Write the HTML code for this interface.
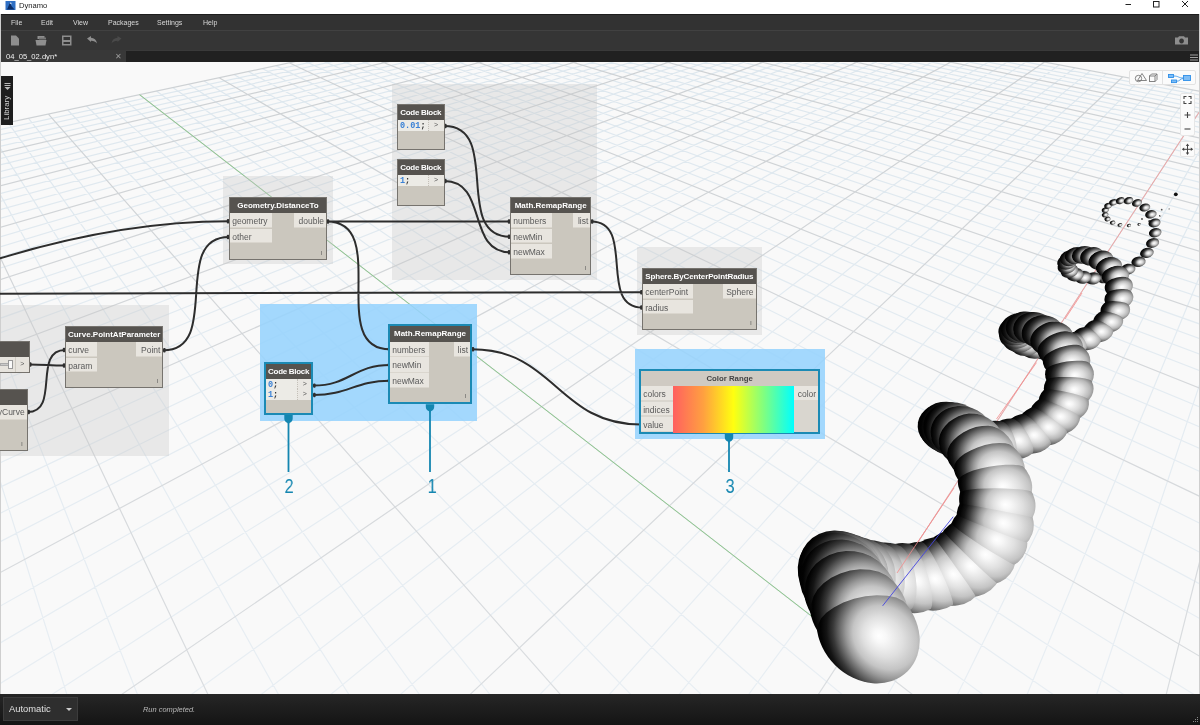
<!DOCTYPE html>
<html lang="en"><head><meta charset="utf-8"><title>Dynamo</title>
<style>
html,body{margin:0;padding:0;}
body{width:1200px;height:725px;overflow:hidden;background:linear-gradient(#fff 0,#fff 14px,#cfcfcf 14px,#cfcfcf 100%);font-family:"Liberation Sans",sans-serif;position:relative;}
#titlebar{position:absolute;left:0;top:0;width:1200px;height:14px;background:#fff;}
#titlebar .ttl{position:absolute;left:19px;top:0;font-size:7.6px;line-height:11px;color:#222;}
#menubar{position:absolute;left:1px;top:14px;width:1198px;height:16px;background:#323232;border-top:1px solid #1d1d1d;box-sizing:border-box;}
#menubar span{position:absolute;top:0px;font-size:7px;line-height:16px;color:#d8d8d8;}
#toolbar{position:absolute;left:1px;top:30px;width:1198px;height:20px;background:#353535;border-top:1px solid #414141;box-sizing:border-box;}
#tabrow{position:absolute;left:1px;top:50px;width:1198px;height:12px;background:#212121;border-top:1px solid #3a3a3a;box-sizing:border-box;}
#tab{position:absolute;left:0;top:-1px;width:125px;height:12px;background:#383838;color:#f0f0f0;font-size:7.6px;line-height:13px;overflow:hidden;}
#tab b{font-weight:normal;position:absolute;left:5px;}
#tab i{font-style:normal;position:absolute;left:114px;color:#9a9a9a;font-size:8px;}
#canvas{position:absolute;left:1px;top:62px;width:1198px;height:632px;background:#f9f9f9;overflow:hidden;}
#bg{position:absolute;left:-1px;top:-62px;}
#statusbar{position:absolute;left:0;top:694px;width:1200px;height:31px;background:linear-gradient(#262626,#141414);}
#runmode{position:absolute;left:3px;top:3px;width:75px;height:24px;box-sizing:border-box;background:#2e2e2e;border:1px solid #3c3c3c;color:#e0e0e0;font-size:9.4px;line-height:22px;padding-left:5px;}
#runmsg{position:absolute;left:143px;top:0;font-size:7.45px;line-height:31px;color:#b8b8b8;font-style:italic;}
#lib{position:absolute;left:1px;top:76px;width:12px;height:49px;background:#1e1e1e;}
#lib span{position:absolute;left:-19px;top:19px;width:50px;height:12px;transform:rotate(-90deg);font-size:7.9px;line-height:12px;color:#d0d0d0;text-align:left;padding-left:6px;box-sizing:border-box;}
.grp{position:absolute;background:rgba(200,200,200,0.34);}
.bgrp{position:absolute;background:rgba(150,211,253,0.88);}
.node{position:absolute;background:#cbc7be;border:1px solid #76736e;box-sizing:border-box;font-size:8.5px;color:#5a5a5a;}
.node.sel{border:2px solid #1b8ab4;}
.hd{background:#56534f;color:#fff;font-weight:bold;font-size:8px;text-align:center;white-space:nowrap;overflow:hidden;}
.hd.light{background:#d3cfc7;color:#444;}
.pi,.po{position:absolute;background:#e8e5df;box-sizing:border-box;white-space:nowrap;box-shadow:inset 0 -1px 0 #dad6ce;}
.pi{left:0;padding-left:2.2px;overflow:hidden;}
.po{right:0;text-align:right;padding-right:2px;overflow:hidden;}
.lace{position:absolute;right:4px;bottom:2px;font-size:6px;line-height:7px;color:#555;}
.code{position:absolute;left:0;background:#ecebe6;font-family:"Liberation Mono",monospace;font-weight:bold;font-size:8.5px;color:#333;box-sizing:border-box;padding-left:2px;padding-top:1px;white-space:nowrap;}
.code em{font-style:normal;color:#3b82d6;}
.cout{position:absolute;right:0;background:#e9e7e2;color:#555;text-align:center;font-size:7px;box-sizing:border-box;border-left:1px dotted #c4c0b8;}
.callnum{position:absolute;color:#1486b0;font-size:21px;line-height:20px;width:30px;text-align:center;transform:scaleX(0.78);}
#viewtog{position:absolute;left:1129px;top:70px;width:67px;height:15px;box-sizing:border-box;background:#fbfbfb;border:1px solid #e2e2e2;border-radius:2px;}
#zoomctl{position:absolute;left:1180px;top:93px;width:15px;height:43px;box-sizing:border-box;background:#fbfbfb;border:1px solid #e6e6e6;border-radius:2px;}
#panctl{position:absolute;left:1180px;top:141px;width:15px;height:16px;box-sizing:border-box;background:#fbfbfb;border:1px solid #e6e6e6;border-radius:2px;}
svg{display:block;}

#titlebar,#menubar,#tabrow,#statusbar,#lib,.node,.callnum{will-change:transform;}
.node.cr{background:#d9d6cf;}
.hd.light{background:#cfcac2;color:#444;font-size:7.8px;}

</style></head>
<body>
<div id="titlebar">
  <svg width="16" height="12" style="position:absolute;left:5px;top:1px" viewBox="0 0 16 12"><rect x="0.5" y="0" width="10" height="9" fill="#2f6fc4"/><path d="M2 8.5L5 1.5L6.5 5L9.5 8.5Z" fill="#0b2d66"/><path d="M4.6 2.2L6 1.2L6.8 3.6Z" fill="#dfeaf8"/></svg>
  <span class="ttl">Dynamo</span>
  <svg width="120" height="14" style="position:absolute;left:1080px;top:-1px" viewBox="0 0 120 14"><path d="M45.5 5.5H51" stroke="#222" stroke-width="1" fill="none"/><rect x="73.5" y="2.5" width="5.5" height="5.5" stroke="#222" stroke-width="1" fill="none"/><path d="M102 2L108 8M108 2L102 8" stroke="#222" stroke-width="1" fill="none"/></svg>
</div>
<div id="menubar"><span style="left:10px">File</span><span style="left:40px">Edit</span><span style="left:72px">View</span><span style="left:107px">Packages</span><span style="left:156px">Settings</span><span style="left:202px">Help</span></div>
<div id="toolbar">
  <svg width="1199" height="19" viewBox="1 31 1199 19" style="position:absolute;left:0;top:0">
    <g fill="#8e8e8e" stroke="none">
      <path d="M11 35.5H16L19 38.5V45.5H11Z"/>
      <path d="M35.5 40H46.5L45.5 45.5H36.5Z"/><rect x="37.5" y="36" width="7" height="3"/><rect x="39" y="37.5" width="7" height="2" fill="#777"/>
      <path d="M62 35.5H71.5V45.5H62Z M63.5 37H70V40H63.5Z M63.5 42H70V44H63.5Z" fill-rule="evenodd"/>
      <path d="M87 38.5L91 36V37.8C94 38 96.5 40 97 43.5C95.5 41.5 93.5 40.6 91 40.7V42Z"/>
      <path d="M121.5 38.5L117.5 36V37.8C114.5 38 112 40 111.5 43.5C113 41.5 115 40.6 117.5 40.7V42Z" fill="#4a4a4a"/>
      <path d="M1175 37.5H1178L1179 36.2H1184L1185 37.5H1188V44.5H1175Z M1181.5 38.6A2.4 2.4 0 1 0 1181.6 38.6Z" fill-rule="evenodd"/>
    </g>
  </svg>
</div>
<div id="tabrow"><div id="tab"><b>04_05_02.dyn*</b><i>&#10005;</i></div>
  <svg width="8" height="8" viewBox="0 0 8 8" style="position:absolute;left:1189px;top:3px"><path d="M0 1H8M0 3.5H8M0 6H8" stroke="#a0a0a0" stroke-width="1" fill="none"/></svg>
</div>
<div id="canvas">
<svg id="bg" width="1200" height="725" viewBox="0 0 1200 725">
<defs><linearGradient id="gmn" gradientUnits="userSpaceOnUse" x1="0" y1="62" x2="0" y2="694"><stop offset="0" stop-color="#dde7ee"/><stop offset="0.45" stop-color="#e3ebf1"/><stop offset="1" stop-color="#e8eef3"/></linearGradient><linearGradient id="gmj" gradientUnits="userSpaceOnUse" x1="0" y1="62" x2="0" y2="694"><stop offset="0" stop-color="#cdd1d4"/><stop offset="0.45" stop-color="#d4d7da"/><stop offset="1" stop-color="#dadde0"/></linearGradient></defs>
<path d="M816.7 6637.3L-154.6 157.4M1371.1 6637.9L-129.1 151.9M1925.6 6638.4L-104.4 146.7M2480.1 6638.9L-80.4 141.6M3589.0 6640.0L-34.8 131.8M4143.5 6640.5L-13.1 127.2M4698.0 6641.0L8.0 122.7M5252.5 6641.5L28.5 118.3M6361.4 6642.6L67.7 110.0M6915.9 6643.1L86.4 106.0M7470.4 6643.6L104.7 102.1M8024.9 6644.1L122.4 98.3M9133.8 6645.2L156.4 91.1M9688.3 6645.7L172.7 87.6M10242.8 6646.2L188.6 84.2M10797.2 6646.8L204.1 80.9M11906.2 6647.8L233.9 74.6M12460.7 6648.3L248.2 71.5M13015.1 6648.9L262.2 68.5M13569.6 6649.4L275.8 65.6M14678.6 6650.4L302.2 60.0M15233.1 6651.0L314.8 57.3M15787.5 6651.5L327.3 54.7M16342.0 6652.0L339.4 52.1M17451.0 6653.0L362.8 47.1M18005.4 6653.6L374.1 44.7M18559.9 6654.1L385.2 42.3M19114.4 6654.6L396.0 40.0M20223.3 6655.7L417.0 35.6M20777.8 6656.2L427.1 33.4M21332.3 6656.7L437.1 31.3M21886.8 6657.2L446.8 29.2M22995.7 6658.3L465.7 25.2M23550.2 6658.8L474.9 23.2M24104.7 6659.3L483.9 21.3M20009.9 5382.4L492.7 19.4M13264.7 3371.4L509.8 15.8M11443.2 2828.4L518.1 14.0M10106.0 2429.8L526.2 12.3M9082.7 2124.7L534.2 10.6M7619.4 1688.4L549.8 7.3M7078.3 1527.1L557.4 5.6M6623.5 1391.5L564.8 4.1M6236.1 1276.0L572.1 2.5M5610.9 1089.6L586.3 -0.5M5355.1 1013.4L593.2 -2.0M5128.5 945.8L600.1 -3.5M4926.3 885.6L606.7 -4.9M4581.1 782.6L619.8 -7.7M4432.6 738.4L626.1 -9.0M4297.2 698.0L632.4 -10.3M4173.4 661.1L638.5 -11.7M764.4 6637.3L1357.5 120.7M217.2 6636.8L1334.8 116.4M-877.2 6635.7L1291.4 108.3M-1424.4 6635.2L1270.6 104.4M-1971.6 6634.7L1250.3 100.6M-2518.8 6634.2L1230.6 96.9M-3613.2 6633.1L1192.8 89.8M-4160.4 6632.6L1174.6 86.4M-4707.6 6632.1L1156.9 83.1M-5254.8 6631.6L1139.7 79.9M-6349.2 6630.6L1106.4 73.6M-6896.4 6630.0L1090.4 70.6M-7443.6 6629.5L1074.8 67.7M-7990.8 6629.0L1059.5 64.8M-9085.2 6628.0L1030.1 59.3M-9632.4 6627.5L1015.9 56.7M-10179.6 6626.9L1002.0 54.1M-10726.8 6626.4L988.4 51.5M-11821.2 6625.4L962.2 46.6M-12368.4 6624.9L949.5 44.2M-12915.6 6624.4L937.1 41.9M-13462.8 6623.8L924.9 39.6M-14557.2 6622.8L901.3 35.2M-15104.4 6622.3L889.9 33.0M-15651.6 6621.8L878.7 30.9M-16198.8 6621.3L867.8 28.9M-17293.2 6620.2L846.5 24.9M-17840.4 6619.7L836.2 23.0M-18387.6 6619.2L826.1 21.1M-18934.8 6618.7L816.2 19.2M-12368.1 4189.0L796.9 15.6M-10163.9 3398.8L787.5 13.9M-8636.1 2851.0L778.4 12.1M-7514.6 2449.0L769.3 10.4M-5978.5 1898.3L751.8 7.1M-5429.6 1701.5L743.2 5.5M-4975.9 1538.8L734.8 4.0M-4594.7 1402.1L726.6 2.4M-3989.9 1185.3L710.5 -0.6M-3745.9 1097.8L702.7 -2.1M-3531.5 1021.0L695.0 -3.5M-3341.6 952.9L687.4 -4.9M-3020.1 837.6L672.7 -7.7M-2882.8 788.4L665.5 -9.0M-2758.3 743.8L658.4 -10.4M-2644.9 703.1L651.4 -11.7" stroke="url(#gmn)" stroke-width="1.2" fill="none"/>
<path d="M262.2 6636.8L-181.1 163.0M3034.6 6639.4L-57.3 136.6M5807.0 6642.0L48.4 114.1M8579.3 6644.7L139.6 94.7M11351.7 6647.3L219.2 77.7M14124.1 6649.9L289.2 62.8M16896.5 6652.5L351.2 49.6M19668.9 6655.1L406.6 37.8M22441.2 6657.8L456.4 27.2M15891.6 4154.6L501.3 17.6M8274.2 1883.6L542.1 8.9M5902.0 1176.4L579.3 1.0M4744.9 831.5L613.3 -6.3M4059.6 627.2L644.6 -12.9M-330.0 6636.3L1312.8 112.3M-3066.0 6633.7L1211.5 93.3M-5802.0 6631.1L1122.8 76.7M-8538.0 6628.5L1044.6 62.0M-11274.0 6625.9L975.2 49.0M-14010.0 6623.3L913.0 37.4M-16746.0 6620.7L857.1 26.9M-15825.0 5428.4L806.5 17.4M-6656.4 2141.3L760.5 8.8M-4269.9 1285.7L718.5 0.9M-3172.1 892.1L680.0 -6.3M-2541.1 665.9L644.6 -12.9M4059.6 627.2L644.6 -12.9" stroke="url(#gmj)" stroke-width="1.2" fill="none"/>
<path d="M850.0 646.0L1211.5 93.3" stroke="#f4a0a0" stroke-width="0.9" fill="none"/>
<path d="M850.0 646.0L139.6 94.7" stroke="#8fc98f" stroke-width="1" fill="none"/>
<defs><radialGradient id="s2_75" gradientUnits="userSpaceOnUse" cx="0.452" cy="0.245" r="1.55" fx="0.178" fy="0.110"><stop offset="0" stop-color="#fff"/><stop offset="0.1" stop-color="#f0f0f0"/><stop offset="0.24" stop-color="#d0d0d0"/><stop offset="0.36" stop-color="#9a9a9a"/><stop offset="0.48" stop-color="#5a5a5a"/><stop offset="0.62" stop-color="#2a2a2a"/><stop offset="0.8" stop-color="#0c0c0c"/><stop offset="1" stop-color="#000"/></radialGradient><radialGradient id="s2_70" gradientUnits="userSpaceOnUse" cx="0.429" cy="0.284" r="1.55" fx="0.167" fy="0.125"><stop offset="0" stop-color="#fff"/><stop offset="0.1" stop-color="#f0f0f0"/><stop offset="0.24" stop-color="#d0d0d0"/><stop offset="0.36" stop-color="#9a9a9a"/><stop offset="0.48" stop-color="#5a5a5a"/><stop offset="0.62" stop-color="#2a2a2a"/><stop offset="0.8" stop-color="#0c0c0c"/><stop offset="1" stop-color="#000"/></radialGradient><radialGradient id="s2_80" gradientUnits="userSpaceOnUse" cx="0.472" cy="0.205" r="1.55" fx="0.187" fy="0.094"><stop offset="0" stop-color="#fff"/><stop offset="0.1" stop-color="#f0f0f0"/><stop offset="0.24" stop-color="#d0d0d0"/><stop offset="0.36" stop-color="#9a9a9a"/><stop offset="0.48" stop-color="#5a5a5a"/><stop offset="0.62" stop-color="#2a2a2a"/><stop offset="0.8" stop-color="#0c0c0c"/><stop offset="1" stop-color="#000"/></radialGradient><radialGradient id="s1_75" gradientUnits="userSpaceOnUse" cx="0.452" cy="0.245" r="1.55" fx="0.178" fy="0.110"><stop offset="0" stop-color="#fff"/><stop offset="0.08" stop-color="#f6f6f6"/><stop offset="0.22" stop-color="#dcdcdc"/><stop offset="0.36" stop-color="#b8b8b8"/><stop offset="0.46" stop-color="#888"/><stop offset="0.56" stop-color="#585858"/><stop offset="0.66" stop-color="#303030"/><stop offset="0.78" stop-color="#111"/><stop offset="0.9" stop-color="#030303"/><stop offset="1" stop-color="#000"/></radialGradient><clipPath id="c63"><path d="M1100.7 242.0L1094.5 252.9L1093.9 253.3L1093.2 253.7L1092.6 254.2L1092.0 254.7L1091.5 255.2L1091.0 255.8L1090.5 256.4L1090.1 257.0L1089.7 257.6L1089.4 258.2L1089.1 258.8L1088.9 259.4L1079.2 267.2L1103.9 288.3L1125.4 263.2 Z"/></clipPath><radialGradient id="s1_80" gradientUnits="userSpaceOnUse" cx="0.472" cy="0.205" r="1.55" fx="0.187" fy="0.094"><stop offset="0" stop-color="#fff"/><stop offset="0.08" stop-color="#f6f6f6"/><stop offset="0.22" stop-color="#dcdcdc"/><stop offset="0.36" stop-color="#b8b8b8"/><stop offset="0.46" stop-color="#888"/><stop offset="0.56" stop-color="#585858"/><stop offset="0.66" stop-color="#303030"/><stop offset="0.78" stop-color="#111"/><stop offset="0.9" stop-color="#030303"/><stop offset="1" stop-color="#000"/></radialGradient><clipPath id="c62"><path d="M1117.2 247.6L1108.4 257.1L1107.2 257.4L1105.9 257.8L1104.7 258.2L1103.4 258.9L1102.2 259.6L1101.0 260.4L1099.9 261.2L1099.0 262.1L1098.1 263.1L1097.4 264.0L1096.9 264.9L1096.6 265.8L1084.9 271.4L1104.8 298.6L1137.2 274.9 Z"/></clipPath><clipPath id="c61"><path d="M1130.3 257.9L1119.4 265.7L1118.1 265.6L1116.6 265.7L1115.0 266.0L1113.2 266.5L1111.5 267.1L1109.7 267.8L1108.1 268.7L1106.6 269.6L1105.2 270.6L1104.1 271.6L1103.3 272.6L1102.7 273.5L1089.7 276.8L1104.5 308.5L1145.1 289.5 Z"/></clipPath><clipPath id="c60"><path d="M1139.4 271.3L1126.9 277.2L1125.7 276.9L1124.2 276.7L1122.4 276.7L1120.3 276.9L1118.2 277.2L1116.0 277.7L1113.8 278.4L1111.8 279.1L1110.0 279.9L1108.5 280.8L1107.4 281.7L1106.6 282.5L1092.8 283.4L1101.9 318.3L1148.4 306.1 Z"/></clipPath><clipPath id="c59"><path d="M1143.8 286.8L1130.1 290.6L1129.2 290.0L1127.8 289.6L1125.9 289.3L1123.7 289.1L1121.3 289.1L1118.8 289.2L1116.3 289.5L1114.0 289.9L1111.8 290.4L1110.0 291.0L1108.7 291.6L1107.8 292.3L1093.6 290.7L1096.5 327.6L1146.7 323.8 Z"/></clipPath><radialGradient id="s1_85" gradientUnits="userSpaceOnUse" cx="0.488" cy="0.163" r="1.55" fx="0.194" fy="0.077"><stop offset="0" stop-color="#fff"/><stop offset="0.08" stop-color="#f6f6f6"/><stop offset="0.22" stop-color="#dcdcdc"/><stop offset="0.36" stop-color="#b8b8b8"/><stop offset="0.46" stop-color="#888"/><stop offset="0.56" stop-color="#585858"/><stop offset="0.66" stop-color="#303030"/><stop offset="0.78" stop-color="#111"/><stop offset="0.9" stop-color="#030303"/><stop offset="1" stop-color="#000"/></radialGradient><clipPath id="c58"><path d="M1143.3 303.5L1128.8 304.7L1128.2 304.0L1126.9 303.4L1125.2 302.8L1123.0 302.2L1120.5 301.8L1117.9 301.4L1115.3 301.2L1112.7 301.1L1110.4 301.2L1108.5 301.4L1107.0 301.8L1106.0 302.2L1092.1 298.0L1088.0 335.7L1139.3 341.2 Z"/></clipPath><clipPath id="c57"><path d="M1137.9 320.2L1123.1 318.5L1122.7 317.8L1121.7 316.9L1120.1 316.0L1118.2 315.0L1115.8 314.1L1113.3 313.2L1110.7 312.5L1108.2 311.9L1105.9 311.6L1103.9 311.4L1102.4 311.5L1101.3 311.7L1088.3 304.7L1076.7 341.6L1126.3 357.1 Z"/></clipPath><clipPath id="c56"><path d="M1127.8 335.9L1113.5 331.1L1113.3 330.2L1112.6 329.2L1111.4 327.9L1109.8 326.6L1107.8 325.2L1105.6 323.8L1103.3 322.6L1101.0 321.6L1098.8 320.8L1096.9 320.3L1095.4 320.1L1094.3 320.2L1082.8 310.3L1063.3 344.6L1108.4 370.2 Z"/></clipPath><clipPath id="c55"><path d="M1113.9 349.7L1100.9 341.6L1101.0 340.6L1100.7 339.3L1099.9 337.8L1098.8 336.2L1097.3 334.4L1095.6 332.7L1093.7 331.1L1091.8 329.6L1089.9 328.5L1088.1 327.6L1086.6 327.2L1085.3 327.1L1076.3 314.6L1048.9 344.0L1086.5 379.1 Z"/></clipPath><clipPath id="c54"><path d="M1097.1 360.8L1086.3 349.4L1086.8 348.4L1086.9 347.0L1086.7 345.3L1086.2 343.4L1085.3 341.4L1084.2 339.4L1082.8 337.5L1081.3 335.8L1079.7 334.4L1078.2 333.2L1076.7 332.5L1075.4 332.2L1069.6 317.6L1035.2 339.6L1062.6 382.7 Z"/></clipPath><clipPath id="c53"><path d="M1078.6 368.5L1071.1 354.5L1072.0 353.4L1072.6 352.0L1073.0 350.2L1073.0 348.3L1072.8 346.2L1072.3 344.1L1071.5 342.0L1070.5 340.1L1069.3 338.5L1068.0 337.1L1066.6 336.1L1065.2 335.5L1063.4 319.7L1023.7 332.0L1038.9 380.9 Z"/></clipPath><clipPath id="c52"><path d="M1060.0 372.7L1056.4 356.8L1057.6 355.8L1058.7 354.4L1059.6 352.8L1060.2 350.9L1060.6 348.9L1060.7 346.8L1060.5 344.8L1060.0 342.8L1059.2 341.0L1058.2 339.4L1057.1 338.2L1055.8 337.3L1058.3 321.2L1015.9 322.6L1017.5 374.1 Z"/></clipPath><clipPath id="c51"><path d="M1042.6 373.4L1043.3 356.7L1044.8 355.8L1046.2 354.6L1047.5 353.2L1048.6 351.6L1049.4 349.8L1050.0 347.9L1050.3 346.0L1050.3 344.2L1050.1 342.4L1049.6 340.7L1048.8 339.2L1047.7 338.0L1054.6 322.8L1012.3 312.7L1000.3 363.3 Z"/></clipPath><clipPath id="c50"><path d="M1027.7 371.1L1032.9 354.7L1034.4 354.0L1035.9 353.1L1037.3 352.0L1038.6 350.7L1039.7 349.4L1040.6 347.9L1041.3 346.4L1041.8 344.8L1042.1 343.2L1042.1 341.6L1041.9 340.2L1041.5 338.8L1052.4 325.5L1013.1 304.2L988.4 349.7 Z"/></clipPath><clipPath id="c49"><path d="M1017.0 365.8L1026.7 351.1L1027.8 350.6L1028.9 350.1L1029.9 349.5L1030.8 348.8L1031.7 348.0L1032.6 347.2L1033.3 346.4L1034.0 345.5L1034.6 344.6L1035.1 343.7L1035.5 342.7L1035.9 341.8L1050.4 331.7L1017.5 299.5L984.1 333.7 Z"/></clipPath><clipPath id="c44"><path d="M1019.2 297.5L1017.5 318.8L1016.6 319.7L1015.8 320.8L1015.1 321.9L1014.5 323.0L1014.0 324.1L1013.7 325.3L1013.4 326.5L1013.2 327.7L1013.2 328.9L1013.2 330.1L1013.4 331.3L1013.6 332.4L1004.1 351.4L1057.6 366.4L1072.7 312.5 Z"/></clipPath><clipPath id="c43"><path d="M1046.1 295.8L1037.1 316.0L1034.7 316.8L1032.3 317.8L1030.1 319.2L1028.0 320.8L1026.2 322.6L1024.6 324.6L1023.4 326.7L1022.4 328.9L1021.8 331.1L1021.6 333.2L1021.8 335.3L1022.3 337.2L1006.4 352.7L1053.8 385.7L1093.4 328.8 Z"/></clipPath><clipPath id="c42"><path d="M1069.2 303.4L1055.0 321.5L1052.1 321.5L1049.1 322.0L1045.9 323.0L1042.8 324.4L1039.8 326.2L1037.1 328.3L1034.7 330.6L1032.8 333.1L1031.4 335.7L1030.5 338.2L1030.2 340.6L1030.5 342.8L1010.6 354.3L1049.8 399.5L1108.4 348.6 Z"/></clipPath><clipPath id="c41"><path d="M1088.6 316.7L1070.4 332.0L1067.7 331.3L1064.5 331.3L1060.8 331.8L1057.0 332.8L1053.1 334.2L1049.4 336.1L1045.9 338.3L1043.0 340.7L1040.6 343.2L1038.9 345.7L1037.9 348.0L1037.7 350.2L1015.2 357.6L1045.3 411.6L1118.7 370.7 Z"/></clipPath><radialGradient id="s1_90" gradientUnits="userSpaceOnUse" cx="0.500" cy="0.120" r="1.55" fx="0.200" fy="0.060"><stop offset="0" stop-color="#fff"/><stop offset="0.08" stop-color="#f6f6f6"/><stop offset="0.22" stop-color="#dcdcdc"/><stop offset="0.36" stop-color="#b8b8b8"/><stop offset="0.46" stop-color="#888"/><stop offset="0.56" stop-color="#585858"/><stop offset="0.66" stop-color="#303030"/><stop offset="0.78" stop-color="#111"/><stop offset="0.9" stop-color="#030303"/><stop offset="1" stop-color="#000"/></radialGradient><clipPath id="c40"><path d="M1103.6 334.2L1082.3 346.2L1080.1 345.2L1077.1 344.7L1073.3 344.7L1069.0 345.2L1064.4 346.2L1059.7 347.5L1055.3 349.2L1051.4 351.2L1048.0 353.2L1045.5 355.3L1043.9 357.3L1043.3 359.2L1019.1 362.4L1039.2 422.8L1123.7 394.6 Z"/></clipPath><clipPath id="c39"><path d="M1113.5 354.9L1089.8 363.0L1088.2 362.0L1085.5 361.2L1081.7 360.8L1077.1 360.7L1072.0 361.0L1066.7 361.6L1061.6 362.5L1056.8 363.7L1052.7 365.0L1049.6 366.4L1047.4 367.9L1046.5 369.3L1021.5 368.1L1030.8 432.6L1122.7 419.4 Z"/></clipPath><clipPath id="c38"><path d="M1117.5 377.6L1092.3 381.5L1091.2 380.5L1088.7 379.5L1085.0 378.6L1080.4 377.8L1075.0 377.3L1069.4 377.0L1063.8 376.9L1058.5 377.1L1054.0 377.5L1050.5 378.1L1048.1 378.9L1046.9 379.8L1022.1 374.0L1019.6 440.5L1115.0 444.0 Z"/></clipPath><radialGradient id="s1_95" gradientUnits="userSpaceOnUse" cx="0.509" cy="0.076" r="1.55" fx="0.204" fy="0.042"><stop offset="0" stop-color="#fff"/><stop offset="0.08" stop-color="#f6f6f6"/><stop offset="0.22" stop-color="#dcdcdc"/><stop offset="0.36" stop-color="#b8b8b8"/><stop offset="0.46" stop-color="#888"/><stop offset="0.56" stop-color="#585858"/><stop offset="0.66" stop-color="#303030"/><stop offset="0.78" stop-color="#111"/><stop offset="0.9" stop-color="#030303"/><stop offset="1" stop-color="#000"/></radialGradient><clipPath id="c37"><path d="M1115.1 401.0L1089.2 400.1L1088.4 399.2L1086.3 398.0L1082.8 396.6L1078.3 395.1L1073.1 393.6L1067.4 392.3L1061.7 391.1L1056.4 390.2L1051.8 389.6L1048.2 389.4L1045.7 389.5L1044.5 390.0L1020.8 379.6L1005.9 445.5L1100.2 466.8 Z"/></clipPath><clipPath id="c36"><path d="M1106.3 423.6L1080.7 417.7L1080.2 416.7L1078.4 415.2L1075.4 413.3L1071.3 411.1L1066.4 408.7L1061.2 406.2L1055.9 404.0L1050.9 402.1L1046.5 400.6L1043.0 399.6L1040.6 399.2L1039.4 399.4L1017.9 384.5L990.3 447.0L1078.7 486.0 Z"/></clipPath><clipPath id="c35"><path d="M1091.6 444.0L1067.6 433.0L1067.4 431.9L1066.1 430.1L1063.6 427.6L1060.3 424.6L1056.2 421.4L1051.7 418.1L1047.1 414.9L1042.7 412.1L1038.8 409.9L1035.5 408.3L1033.2 407.5L1031.9 407.5L1013.7 388.4L973.6 444.5L1051.5 500.1 Z"/></clipPath><clipPath id="c34"><path d="M1072.3 461.1L1050.9 445.1L1051.2 443.9L1050.6 441.7L1049.0 438.8L1046.6 435.2L1043.6 431.3L1040.2 427.3L1036.5 423.5L1032.8 420.1L1029.4 417.3L1026.4 415.3L1024.1 414.1L1022.6 414.0L1008.7 391.2L957.2 438.0L1020.8 507.9 Z"/></clipPath><radialGradient id="s1_100" gradientUnits="userSpaceOnUse" cx="0.513" cy="0.031" r="1.55" fx="0.207" fy="0.024"><stop offset="0" stop-color="#fff"/><stop offset="0.08" stop-color="#f6f6f6"/><stop offset="0.22" stop-color="#dcdcdc"/><stop offset="0.36" stop-color="#b8b8b8"/><stop offset="0.46" stop-color="#888"/><stop offset="0.56" stop-color="#585858"/><stop offset="0.66" stop-color="#303030"/><stop offset="0.78" stop-color="#111"/><stop offset="0.9" stop-color="#030303"/><stop offset="1" stop-color="#000"/></radialGradient><clipPath id="c33"><path d="M1049.8 474.1L1032.3 453.7L1033.2 452.3L1033.4 449.9L1032.9 446.7L1031.7 442.8L1029.9 438.5L1027.6 434.1L1024.9 429.8L1022.0 426.0L1019.2 422.8L1016.4 420.4L1014.1 419.0L1012.1 418.6L1003.4 393.1L942.5 428.0L988.9 509.0 Z"/></clipPath><clipPath id="c32"><path d="M1026.1 482.8L1013.2 458.8L1014.8 457.3L1016.0 454.9L1016.7 451.6L1016.7 447.6L1016.1 443.2L1014.9 438.7L1013.2 434.2L1011.2 430.1L1008.8 426.6L1006.3 423.9L1003.8 422.1L1001.5 421.3L998.4 394.2L930.6 415.4L958.3 503.9 Z"/></clipPath><clipPath id="c31"><path d="M1002.7 487.3L995.0 460.8L997.5 459.4L999.6 457.1L1001.3 453.9L1002.4 450.2L1003.0 445.9L1002.9 441.4L1002.1 437.0L1000.8 432.8L999.0 429.1L996.8 426.0L994.2 423.8L991.6 422.4L994.3 395.0L922.6 401.4L931.0 493.8 Z"/></clipPath><clipPath id="c30"><path d="M981.1 488.4L979.0 460.3L982.1 459.1L985.0 457.1L987.6 454.3L989.6 450.9L991.1 447.0L991.9 442.9L992.1 438.7L991.5 434.5L990.3 430.7L988.5 427.4L986.2 424.6L983.4 422.7L991.9 395.9L919.2 387.3L908.3 479.9 Z"/></clipPath><clipPath id="c29"><path d="M962.6 486.7L966.4 458.2L969.8 457.2L973.1 455.6L976.2 453.3L978.8 450.5L980.9 447.2L982.5 443.6L983.4 439.8L983.6 436.0L983.2 432.3L982.0 428.8L980.3 425.7L978.0 423.1L992.1 398.1L921.1 374.4L891.5 463.0 Z"/></clipPath><clipPath id="c28"><path d="M948.5 482.8L958.7 455.1L961.8 454.3L964.9 453.0L967.8 451.3L970.3 449.3L972.6 446.9L974.5 444.3L975.9 441.4L976.9 438.4L977.4 435.4L977.3 432.3L976.8 429.3L975.8 426.5L995.5 404.5L929.6 365.0L882.6 443.3 Z"/></clipPath><radialGradient id="s0_100" gradientUnits="userSpaceOnUse" cx="0.513" cy="0.031" r="1.55" fx="0.207" fy="0.024"><stop offset="0" stop-color="#fff"/><stop offset="0.08" stop-color="#f8f8f8"/><stop offset="0.25" stop-color="#e0e0e0"/><stop offset="0.4" stop-color="#c4c4c4"/><stop offset="0.51" stop-color="#989898"/><stop offset="0.61" stop-color="#686868"/><stop offset="0.71" stop-color="#383838"/><stop offset="0.81" stop-color="#141414"/><stop offset="0.9" stop-color="#030303"/><stop offset="1" stop-color="#000"/></radialGradient><clipPath id="c23"><path d="M972.8 374.7L956.7 406.3L952.6 406.9L948.7 408.1L944.9 409.8L941.4 412.0L938.3 414.7L935.7 417.6L933.5 420.9L931.9 424.4L930.9 428.0L930.5 431.6L930.8 435.2L931.6 438.7L905.0 462.1L977.9 518.6L1045.7 431.3 Z"/></clipPath><clipPath id="c22"><path d="M1002.4 385.7L979.2 414.3L974.3 413.4L969.0 413.5L963.6 414.5L958.4 416.3L953.4 418.9L948.9 422.1L945.1 425.9L942.1 430.1L940.0 434.5L938.9 439.0L938.9 443.3L939.8 447.3L907.7 465.3L969.4 538.7L1064.1 459.2 Z"/></clipPath><clipPath id="c21"><path d="M1026.9 403.4L997.9 428.2L993.5 426.4L988.1 425.7L982.1 425.9L975.8 427.1L969.5 429.3L963.5 432.2L958.1 435.9L953.6 440.0L950.2 444.3L948.0 448.7L947.1 453.0L947.6 456.8L911.4 469.1L960.6 555.6L1076.2 489.8 Z"/></clipPath><radialGradient id="s0_105" gradientUnits="userSpaceOnUse" cx="0.514" cy="-0.013" r="1.55" fx="0.209" fy="0.006"><stop offset="0" stop-color="#fff"/><stop offset="0.08" stop-color="#f8f8f8"/><stop offset="0.25" stop-color="#e0e0e0"/><stop offset="0.4" stop-color="#c4c4c4"/><stop offset="0.51" stop-color="#989898"/><stop offset="0.61" stop-color="#686868"/><stop offset="0.71" stop-color="#383838"/><stop offset="0.81" stop-color="#141414"/><stop offset="0.9" stop-color="#030303"/><stop offset="1" stop-color="#000"/></radialGradient><clipPath id="c20"><path d="M1047.6 426.4L1013.7 446.5L1010.3 444.5L1005.4 443.3L999.2 443.0L992.3 443.6L984.9 445.1L977.5 447.4L970.6 450.4L964.5 453.8L959.7 457.5L956.3 461.2L954.4 464.7L954.2 467.9L915.3 474.0L950.0 570.7L1082.4 523.1 Z"/></clipPath><clipPath id="c19"><path d="M1063.6 453.9L1025.8 468.3L1023.5 466.6L1019.1 465.3L1013.1 464.7L1005.6 464.8L997.4 465.4L988.8 466.7L980.6 468.5L973.1 470.6L967.0 473.0L962.4 475.4L959.7 477.8L959.0 480.0L918.5 479.3L936.7 583.3L1081.8 557.9 Z"/></clipPath><clipPath id="c18"><path d="M1073.6 484.9L1032.9 492.6L1031.5 491.5L1027.7 490.4L1021.7 489.5L1013.9 488.9L1005.0 488.4L995.5 488.3L986.3 488.4L977.8 488.8L970.8 489.5L965.5 490.3L962.3 491.3L961.3 492.3L920.7 484.3L920.3 592.2L1073.2 592.8 Z"/></clipPath><radialGradient id="s0_110" gradientUnits="userSpaceOnUse" cx="0.511" cy="-0.058" r="1.55" fx="0.208" fy="-0.012"><stop offset="0" stop-color="#fff"/><stop offset="0.08" stop-color="#f8f8f8"/><stop offset="0.25" stop-color="#e0e0e0"/><stop offset="0.4" stop-color="#c4c4c4"/><stop offset="0.51" stop-color="#989898"/><stop offset="0.61" stop-color="#686868"/><stop offset="0.71" stop-color="#383838"/><stop offset="0.81" stop-color="#141414"/><stop offset="0.9" stop-color="#030303"/><stop offset="1" stop-color="#000"/></radialGradient><clipPath id="c17"><path d="M1076.1 517.8L1034.0 517.9L1033.1 517.5L1029.5 516.7L1023.5 515.3L1015.6 513.7L1006.3 511.9L996.5 510.0L986.7 508.2L977.9 506.6L970.5 505.3L965.1 504.5L961.8 504.1L960.9 504.1L921.8 488.6L901.5 596.3L1055.7 625.5 Z"/></clipPath><clipPath id="c16"><path d="M1070.2 550.6L1028.5 542.7L1027.6 542.8L1024.1 541.8L1018.2 539.8L1010.4 536.9L1001.3 533.5L991.6 529.7L982.1 525.8L973.5 522.3L966.4 519.2L961.3 516.9L958.5 515.4L957.9 514.8L922.1 492.0L881.3 595.0L1029.5 653.6 Z"/></clipPath><radialGradient id="s0_115" gradientUnits="userSpaceOnUse" cx="0.504" cy="-0.103" r="1.55" fx="0.207" fy="-0.030"><stop offset="0" stop-color="#fff"/><stop offset="0.08" stop-color="#f8f8f8"/><stop offset="0.25" stop-color="#e0e0e0"/><stop offset="0.4" stop-color="#c4c4c4"/><stop offset="0.51" stop-color="#989898"/><stop offset="0.61" stop-color="#686868"/><stop offset="0.71" stop-color="#383838"/><stop offset="0.81" stop-color="#141414"/><stop offset="0.9" stop-color="#030303"/><stop offset="1" stop-color="#000"/></radialGradient><clipPath id="c15"><path d="M1056.0 581.1L1016.3 565.2L1015.3 565.3L1011.9 563.8L1006.4 560.8L999.2 556.6L990.8 551.5L981.9 545.9L973.3 540.2L965.6 535.0L959.4 530.5L955.0 527.1L952.6 525.0L952.4 524.2L921.4 494.7L861.2 588.4L995.7 674.9 Z"/></clipPath><clipPath id="c14"><path d="M1034.3 607.2L998.3 583.8L997.4 583.5L994.6 581.3L989.9 577.2L983.9 571.7L976.8 565.1L969.4 558.1L962.2 551.0L955.7 544.6L950.4 539.2L946.6 535.1L944.6 532.7L944.4 532.0L919.6 497.0L842.1 577.6L956.8 687.8 Z"/></clipPath><radialGradient id="s0_120" gradientUnits="userSpaceOnUse" cx="0.493" cy="-0.146" r="1.55" fx="0.203" fy="-0.048"><stop offset="0" stop-color="#fff"/><stop offset="0.08" stop-color="#f8f8f8"/><stop offset="0.25" stop-color="#e0e0e0"/><stop offset="0.4" stop-color="#c4c4c4"/><stop offset="0.51" stop-color="#989898"/><stop offset="0.61" stop-color="#686868"/><stop offset="0.71" stop-color="#383838"/><stop offset="0.81" stop-color="#141414"/><stop offset="0.9" stop-color="#030303"/><stop offset="1" stop-color="#000"/></radialGradient><clipPath id="c13"><path d="M1007.5 627.3L976.4 597.5L976.0 596.7L974.2 593.7L970.9 588.8L966.5 582.3L961.2 574.7L955.5 566.7L949.9 558.7L944.6 551.5L940.2 545.6L936.9 541.2L934.9 538.7L934.2 538.1L916.4 498.9L824.8 563.8L915.9 692.2 Z"/></clipPath><clipPath id="c12"><path d="M978.0 641.3L952.6 606.4L953.2 605.0L952.8 601.5L951.2 596.1L948.7 589.1L945.4 581.0L941.5 572.4L937.4 564.0L933.3 556.4L929.5 550.2L926.3 545.6L923.9 542.9L922.4 542.2L911.7 500.3L809.7 548.3L876.1 689.3 Z"/></clipPath><radialGradient id="s0_125" gradientUnits="userSpaceOnUse" cx="0.478" cy="-0.188" r="1.55" fx="0.198" fy="-0.066"><stop offset="0" stop-color="#fff"/><stop offset="0.08" stop-color="#f8f8f8"/><stop offset="0.25" stop-color="#e0e0e0"/><stop offset="0.4" stop-color="#c4c4c4"/><stop offset="0.51" stop-color="#989898"/><stop offset="0.61" stop-color="#686868"/><stop offset="0.71" stop-color="#383838"/><stop offset="0.81" stop-color="#141414"/><stop offset="0.9" stop-color="#030303"/><stop offset="1" stop-color="#000"/></radialGradient><clipPath id="c11"><path d="M948.6 649.7L928.9 610.9L930.8 609.3L932.0 605.6L932.3 600.0L931.8 592.9L930.3 584.7L928.1 576.0L925.3 567.6L922.1 559.8L918.7 553.3L915.4 548.4L912.4 545.4L909.8 544.4L905.9 501.0L796.9 532.3L839.5 681.0 Z"/></clipPath><clipPath id="c10"><path d="M921.2 653.9L907.0 612.2L910.3 610.6L913.1 607.0L915.2 601.5L916.4 594.6L916.6 586.7L915.8 578.2L914.1 569.8L911.6 562.0L908.4 555.3L904.9 550.1L901.2 546.5L897.5 544.9L899.7 500.9L786.2 516.9L807.7 669.8 Z"/></clipPath><clipPath id="c9"><path d="M897.7 655.1L888.2 611.5L892.8 609.9L897.0 606.5L900.5 601.4L903.1 594.9L904.6 587.4L904.9 579.4L904.0 571.3L902.1 563.6L899.1 556.7L895.4 551.0L891.2 546.8L886.6 544.3L894.0 500.2L777.6 503.0L781.3 657.9 Z"/></clipPath><clipPath id="c8"><path d="M880.0 654.9L874.1 609.7L879.6 608.0L884.6 604.8L889.0 600.1L892.4 594.2L894.7 587.3L895.7 579.9L895.5 572.2L894.0 564.8L891.4 557.9L887.7 551.9L883.2 547.0L878.2 543.5L889.6 499.3L770.9 492.0L761.3 647.6 Z"/></clipPath><radialGradient id="s0_130" gradientUnits="userSpaceOnUse" cx="0.460" cy="-0.229" r="1.55" fx="0.192" fy="-0.083"><stop offset="0" stop-color="#fff"/><stop offset="0.08" stop-color="#f8f8f8"/><stop offset="0.25" stop-color="#e0e0e0"/><stop offset="0.4" stop-color="#c4c4c4"/><stop offset="0.51" stop-color="#989898"/><stop offset="0.61" stop-color="#686868"/><stop offset="0.71" stop-color="#383838"/><stop offset="0.81" stop-color="#141414"/><stop offset="0.9" stop-color="#030303"/><stop offset="1" stop-color="#000"/></radialGradient><clipPath id="c7"><path d="M871.4 654.1L867.2 607.4L872.7 605.3L877.6 601.9L881.8 597.4L885.2 592.1L887.5 586.0L888.7 579.4L888.8 572.7L887.7 565.9L885.5 559.5L882.3 553.6L878.3 548.4L873.6 544.1L887.0 499.2L765.5 486.9L749.8 641.8 Z"/></clipPath><clipPath id="c6"><path d="M881.4 647.5L874.0 599.7L876.9 596.6L879.3 593.2L881.3 589.3L882.8 585.2L883.8 580.9L884.2 576.5L884.0 571.9L883.4 567.4L882.1 562.9L880.4 558.6L878.3 554.5L875.7 550.7L886.4 503.5L760.3 499.1L755.4 643.2 Z"/></clipPath><clipPath id="c3"><path d="M906.6 515.6L859.8 544.1L854.1 541.8L848.2 540.3L842.1 539.6L836.1 539.7L830.2 540.6L824.6 542.3L819.4 544.7L814.7 547.8L810.6 551.6L807.1 555.8L804.4 560.5L802.4 565.5L748.5 574.7L798.4 708.3L956.5 649.1 Z"/></clipPath><clipPath id="c2"><path d="M924.7 528.5L877.2 560.3L870.5 556.0L862.8 552.9L854.4 551.2L845.9 551.0L837.4 552.3L829.3 555.0L822.0 558.9L815.7 564.0L810.8 570.0L807.2 576.7L805.3 583.8L805.1 590.9L749.1 602.9L807.3 740.2L982.9 665.8 Z"/></clipPath><clipPath id="c1"><path d="M943.7 549.4L892.6 580.4L886.6 575.5L878.9 571.8L869.9 569.8L860.1 569.3L850.0 570.6L840.2 573.5L831.2 577.8L823.5 583.3L817.5 589.6L813.4 596.6L811.4 603.6L811.6 610.6L752.6 620.4L806.9 766.4L998.0 695.3 Z"/></clipPath><radialGradient id="s0_135" gradientUnits="userSpaceOnUse" cx="0.438" cy="-0.269" r="1.55" fx="0.184" fy="-0.099"><stop offset="0" stop-color="#fff"/><stop offset="0.08" stop-color="#f8f8f8"/><stop offset="0.25" stop-color="#e0e0e0"/><stop offset="0.4" stop-color="#c4c4c4"/><stop offset="0.51" stop-color="#989898"/><stop offset="0.61" stop-color="#686868"/><stop offset="0.71" stop-color="#383838"/><stop offset="0.81" stop-color="#141414"/><stop offset="0.9" stop-color="#030303"/><stop offset="1" stop-color="#000"/></radialGradient><clipPath id="c0"><path d="M963.5 577.7L907.7 605.2L903.2 600.9L896.3 597.6L887.3 595.7L876.8 595.3L865.4 596.3L854.0 598.8L843.3 602.6L833.8 607.4L826.3 612.8L821.0 618.6L818.3 624.4L818.2 629.8L756.2 634.6L799.0 790.9L1006.3 734.0 Z"/></clipPath></defs>
<g transform="translate(1169.2 208.9) rotate(-15) scale(0.70 0.49)"><circle r="1" fill="url(#s2_75)"/></g>
<g transform="translate(1160.1 215.8) rotate(-15) scale(1.10 0.77)"><circle r="1" fill="url(#s2_75)"/></g>
<g transform="translate(1149.8 221.0) rotate(-15) scale(1.48 1.05)"><circle r="1" fill="url(#s2_75)"/></g>
<g transform="translate(1139.2 224.3) rotate(-15) scale(1.83 1.31)"><circle r="1" fill="url(#s2_75)"/></g>
<g transform="translate(1128.9 225.5) rotate(-15) scale(2.17 1.56)"><circle r="1" fill="url(#s2_75)"/></g>
<g transform="translate(1119.9 224.9) rotate(-15) scale(2.48 1.80)"><circle r="1" fill="url(#s2_75)"/></g>
<g transform="translate(1112.6 222.6) rotate(-15) scale(2.78 2.03)"><circle r="1" fill="url(#s2_75)"/></g>
<g transform="translate(1107.5 219.0) rotate(-15) scale(3.07 2.25)"><circle r="1" fill="url(#s2_75)"/></g>
<g transform="translate(1105.1 214.7) rotate(-20) scale(3.36 2.47)"><circle r="1" fill="url(#s2_70)"/></g>
<g transform="translate(1105.3 210.1) rotate(-20) scale(3.65 2.68)"><circle r="1" fill="url(#s2_70)"/></g>
<g transform="translate(1108.1 205.8) rotate(-20) scale(3.95 2.88)"><circle r="1" fill="url(#s2_70)"/></g>
<g transform="translate(1113.3 202.4) rotate(-20) scale(4.25 3.09)"><circle r="1" fill="url(#s2_70)"/></g>
<g transform="translate(1120.4 200.6) rotate(-20) scale(4.56 3.29)"><circle r="1" fill="url(#s2_70)"/></g>
<g transform="translate(1128.5 200.6) rotate(-20) scale(4.88 3.50)"><circle r="1" fill="url(#s2_70)"/></g>
<g transform="translate(1137.0 202.9) rotate(-20) scale(5.20 3.70)"><circle r="1" fill="url(#s2_70)"/></g>
<g transform="translate(1144.8 207.5) rotate(-15) scale(5.52 3.91)"><circle r="1" fill="url(#s2_75)"/></g>
<g transform="translate(1150.9 214.3) rotate(-15) scale(5.83 4.12)"><circle r="1" fill="url(#s2_75)"/></g>
<g transform="translate(1154.5 222.9) rotate(-15) scale(6.14 4.33)"><circle r="1" fill="url(#s2_75)"/></g>
<g transform="translate(1155.2 232.7) rotate(-15) scale(6.42 4.54)"><circle r="1" fill="url(#s2_75)"/></g>
<g transform="translate(1152.6 243.0) rotate(-15) scale(6.69 4.75)"><circle r="1" fill="url(#s2_75)"/></g>
<g transform="translate(1146.9 252.9) rotate(-15) scale(6.94 4.96)"><circle r="1" fill="url(#s2_75)"/></g>
<g transform="translate(1138.5 261.8) rotate(-10) scale(7.17 5.17)"><circle r="1" fill="url(#s2_80)"/></g>
<g transform="translate(1128.1 269.1) rotate(-10) scale(7.40 5.39)"><circle r="1" fill="url(#s2_80)"/></g>
<g transform="translate(1116.4 274.3) rotate(-10) scale(7.62 5.61)"><circle r="1" fill="url(#s2_80)"/></g>
<g transform="translate(1104.5 277.4) rotate(-10) scale(7.84 5.84)"><circle r="1" fill="url(#s2_80)"/></g>
<g transform="translate(1093.1 278.4) rotate(-10) scale(8.08 6.07)"><circle r="1" fill="url(#s2_80)"/></g>
<g transform="translate(1083.1 277.4) rotate(-10) scale(8.35 6.33)"><circle r="1" fill="url(#s2_80)"/></g>
<g transform="translate(1075.1 274.7) rotate(-10) scale(8.65 6.60)"><circle r="1" fill="url(#s2_80)"/></g>
<g transform="translate(1069.5 270.9) rotate(-15) scale(9.00 6.89)"><circle r="1" fill="url(#s2_75)"/></g>
<g transform="translate(1066.8 266.5) rotate(-15) scale(9.39 7.20)"><circle r="1" fill="url(#s2_75)"/></g>
<g transform="translate(1067.0 262.0) rotate(-15) scale(9.84 7.54)"><circle r="1" fill="url(#s2_75)"/></g>
<g transform="translate(1070.0 258.1) rotate(-15) scale(10.33 7.89)"><circle r="1" fill="url(#s2_75)"/></g>
<g transform="translate(1075.6 255.5) rotate(-15) scale(10.88 8.26)"><circle r="1" fill="url(#s1_75)"/></g>
<g transform="translate(1083.2 254.8) rotate(-15) scale(11.46 8.64)"><circle r="1" fill="url(#s1_75)"/></g>
<g transform="translate(1092.0 256.3) rotate(-15) scale(12.05 9.03)"><circle r="1" fill="url(#s1_75)"/></g>
<g clip-path="url(#c63)"><g transform="translate(1101.0 260.3) rotate(-15) scale(12.65 9.41)"><circle r="1" fill="url(#s1_75)"/></g></g>
<g clip-path="url(#c62)"><g transform="translate(1109.1 267.0) rotate(-10) scale(13.22 9.78)"><circle r="1" fill="url(#s1_80)"/></g></g>
<g clip-path="url(#c61)"><g transform="translate(1115.4 275.9) rotate(-10) scale(13.74 10.13)"><circle r="1" fill="url(#s1_80)"/></g></g>
<g clip-path="url(#c60)"><g transform="translate(1118.8 286.6) rotate(-10) scale(14.19 10.45)"><circle r="1" fill="url(#s1_80)"/></g></g>
<g clip-path="url(#c59)"><g transform="translate(1118.9 298.3) rotate(-10) scale(14.56 10.74)"><circle r="1" fill="url(#s1_80)"/></g></g>
<g clip-path="url(#c58)"><g transform="translate(1115.3 310.2) rotate(-5) scale(14.83 10.99)"><circle r="1" fill="url(#s1_85)"/></g></g>
<g clip-path="url(#c57)"><g transform="translate(1108.2 321.3) rotate(-5) scale(15.03 11.22)"><circle r="1" fill="url(#s1_85)"/></g></g>
<g clip-path="url(#c56)"><g transform="translate(1098.2 331.0) rotate(-5) scale(15.17 11.43)"><circle r="1" fill="url(#s1_85)"/></g></g>
<g clip-path="url(#c55)"><g transform="translate(1086.1 338.7) rotate(-5) scale(15.27 11.63)"><circle r="1" fill="url(#s1_85)"/></g></g>
<g clip-path="url(#c54)"><g transform="translate(1072.8 344.0) rotate(-5) scale(15.36 11.84)"><circle r="1" fill="url(#s1_85)"/></g></g>
<g clip-path="url(#c53)"><g transform="translate(1059.2 346.9) rotate(-5) scale(15.47 12.06)"><circle r="1" fill="url(#s1_85)"/></g></g>
<g clip-path="url(#c52)"><g transform="translate(1046.3 347.5) rotate(-5) scale(15.62 12.31)"><circle r="1" fill="url(#s1_85)"/></g></g>
<g clip-path="url(#c51)"><g transform="translate(1035.0 346.1) rotate(-5) scale(15.84 12.61)"><circle r="1" fill="url(#s1_85)"/></g></g>
<g clip-path="url(#c50)"><g transform="translate(1025.9 343.1) rotate(-5) scale(16.15 12.95)"><circle r="1" fill="url(#s1_85)"/></g></g>
<g clip-path="url(#c49)"><g transform="translate(1019.5 339.2) rotate(-5) scale(16.56 13.34)"><circle r="1" fill="url(#s1_85)"/></g></g>
<g transform="translate(1016.2 334.9) rotate(-5) scale(17.08 13.79)"><circle r="1" fill="url(#s1_85)"/></g>
<g transform="translate(1016.1 331.0) rotate(-5) scale(17.71 14.30)"><circle r="1" fill="url(#s1_85)"/></g>
<g transform="translate(1019.2 328.1) rotate(-5) scale(18.45 14.86)"><circle r="1" fill="url(#s1_85)"/></g>
<g transform="translate(1025.0 327.0) rotate(-5) scale(19.29 15.46)"><circle r="1" fill="url(#s1_85)"/></g>
<g clip-path="url(#c44)"><g transform="translate(1033.0 328.1) rotate(-5) scale(20.20 16.08)"><circle r="1" fill="url(#s1_85)"/></g></g>
<g clip-path="url(#c43)"><g transform="translate(1042.3 332.0) rotate(-5) scale(21.16 16.72)"><circle r="1" fill="url(#s1_85)"/></g></g>
<g clip-path="url(#c42)"><g transform="translate(1051.8 338.8) rotate(-5) scale(22.11 17.34)"><circle r="1" fill="url(#s1_85)"/></g></g>
<g clip-path="url(#c41)"><g transform="translate(1060.2 348.5) rotate(-5) scale(23.00 17.92)"><circle r="1" fill="url(#s1_85)"/></g></g>
<g clip-path="url(#c40)"><g transform="translate(1066.5 360.5) rotate(0) scale(23.79 18.45)"><circle r="1" fill="url(#s1_90)"/></g></g>
<g clip-path="url(#c39)"><g transform="translate(1069.5 374.2) rotate(0) scale(24.43 18.90)"><circle r="1" fill="url(#s1_90)"/></g></g>
<g clip-path="url(#c38)"><g transform="translate(1068.7 388.6) rotate(0) scale(24.90 19.27)"><circle r="1" fill="url(#s1_90)"/></g></g>
<g clip-path="url(#c37)"><g transform="translate(1063.8 402.5) rotate(5) scale(25.18 19.57)"><circle r="1" fill="url(#s1_95)"/></g></g>
<g clip-path="url(#c36)"><g transform="translate(1055.0 415.2) rotate(5) scale(25.31 19.80)"><circle r="1" fill="url(#s1_95)"/></g></g>
<g clip-path="url(#c35)"><g transform="translate(1043.0 425.8) rotate(5) scale(25.32 19.99)"><circle r="1" fill="url(#s1_95)"/></g></g>
<g clip-path="url(#c34)"><g transform="translate(1028.7 433.7) rotate(5) scale(25.25 20.16)"><circle r="1" fill="url(#s1_95)"/></g></g>
<g clip-path="url(#c33)"><g transform="translate(1013.2 439.0) rotate(10) scale(25.18 20.35)"><circle r="1" fill="url(#s1_100)"/></g></g>
<g clip-path="url(#c32)"><g transform="translate(997.4 441.5) rotate(10) scale(25.14 20.58)"><circle r="1" fill="url(#s1_100)"/></g></g>
<g clip-path="url(#c31)"><g transform="translate(982.6 441.7) rotate(10) scale(25.19 20.86)"><circle r="1" fill="url(#s1_100)"/></g></g>
<g clip-path="url(#c30)"><g transform="translate(969.4 439.9) rotate(10) scale(25.36 21.23)"><circle r="1" fill="url(#s1_100)"/></g></g>
<g clip-path="url(#c29)"><g transform="translate(958.6 436.9) rotate(10) scale(25.70 21.71)"><circle r="1" fill="url(#s1_100)"/></g></g>
<g clip-path="url(#c28)"><g transform="translate(950.8 433.2) rotate(10) scale(26.22 22.29)"><circle r="1" fill="url(#s1_100)"/></g></g>
<g transform="translate(946.4 429.8) rotate(10) scale(26.93 22.98)"><circle r="1" fill="url(#s1_100)"/></g>
<g transform="translate(945.4 427.2) rotate(10) scale(27.85 23.79)"><circle r="1" fill="url(#s1_100)"/></g>
<g transform="translate(947.9 426.5) rotate(10) scale(28.97 24.70)"><circle r="1" fill="url(#s1_100)"/></g>
<g transform="translate(953.4 428.1) rotate(10) scale(30.27 25.70)"><circle r="1" fill="url(#s0_100)"/></g>
<g clip-path="url(#c23)"><g transform="translate(961.3 432.8) rotate(10) scale(31.72 26.75)"><circle r="1" fill="url(#s0_100)"/></g></g>
<g clip-path="url(#c22)"><g transform="translate(970.8 441.0) rotate(10) scale(33.26 27.81)"><circle r="1" fill="url(#s0_100)"/></g></g>
<g clip-path="url(#c21)"><g transform="translate(980.5 452.5) rotate(10) scale(34.82 28.84)"><circle r="1" fill="url(#s0_100)"/></g></g>
<g clip-path="url(#c20)"><g transform="translate(989.0 467.2) rotate(15) scale(36.30 29.79)"><circle r="1" fill="url(#s0_105)"/></g></g>
<g clip-path="url(#c19)"><g transform="translate(995.0 484.2) rotate(15) scale(37.60 30.61)"><circle r="1" fill="url(#s0_105)"/></g></g>
<g clip-path="url(#c18)"><g transform="translate(997.3 502.4) rotate(15) scale(38.64 31.27)"><circle r="1" fill="url(#s0_105)"/></g></g>
<g clip-path="url(#c17)"><g transform="translate(995.2 520.6) rotate(20) scale(39.38 31.76)"><circle r="1" fill="url(#s0_110)"/></g></g>
<g clip-path="url(#c16)"><g transform="translate(988.5 537.4) rotate(20) scale(39.78 32.09)"><circle r="1" fill="url(#s0_110)"/></g></g>
<g clip-path="url(#c15)"><g transform="translate(977.3 551.9) rotate(25) scale(39.89 32.30)"><circle r="1" fill="url(#s0_115)"/></g></g>
<g clip-path="url(#c14)"><g transform="translate(962.7 563.3) rotate(25) scale(39.78 32.43)"><circle r="1" fill="url(#s0_115)"/></g></g>
<g clip-path="url(#c13)"><g transform="translate(945.5 571.4) rotate(30) scale(39.54 32.53)"><circle r="1" fill="url(#s0_120)"/></g></g>
<g clip-path="url(#c12)"><g transform="translate(927.0 576.2) rotate(30) scale(39.27 32.67)"><circle r="1" fill="url(#s0_120)"/></g></g>
<g clip-path="url(#c11)"><g transform="translate(908.3 578.1) rotate(35) scale(39.06 32.89)"><circle r="1" fill="url(#s0_125)"/></g></g>
<g clip-path="url(#c10)"><g transform="translate(890.5 577.7) rotate(35) scale(39.02 33.24)"><circle r="1" fill="url(#s0_125)"/></g></g>
<g clip-path="url(#c9)"><g transform="translate(874.4 575.8) rotate(35) scale(39.19 33.75)"><circle r="1" fill="url(#s0_125)"/></g></g>
<g clip-path="url(#c8)"><g transform="translate(860.9 573.2) rotate(35) scale(39.65 34.47)"><circle r="1" fill="url(#s0_125)"/></g></g>
<g clip-path="url(#c7)"><g transform="translate(850.4 570.9) rotate(40) scale(40.43 35.40)"><circle r="1" fill="url(#s0_130)"/></g></g>
<g clip-path="url(#c6)"><g transform="translate(843.4 569.8) rotate(40) scale(41.57 36.57)"><circle r="1" fill="url(#s0_130)"/></g></g>
<g transform="translate(840.1 570.7) rotate(40) scale(43.09 37.96)"><circle r="1" fill="url(#s0_130)"/></g>
<g transform="translate(840.5 574.7) rotate(40) scale(45.00 39.56)"><circle r="1" fill="url(#s0_130)"/></g>
<g clip-path="url(#c3)"><g transform="translate(844.3 582.5) rotate(40) scale(47.29 41.33)"><circle r="1" fill="url(#s0_130)"/></g></g>
<g clip-path="url(#c2)"><g transform="translate(850.9 594.5) rotate(40) scale(49.92 43.22)"><circle r="1" fill="url(#s0_130)"/></g></g>
<g clip-path="url(#c1)"><g transform="translate(859.2 611.1) rotate(40) scale(52.82 45.13)"><circle r="1" fill="url(#s0_130)"/></g></g>
<g clip-path="url(#c0)"><g transform="translate(868.1 631.8) rotate(45) scale(55.87 46.98)"><circle r="1" fill="url(#s0_135)"/></g></g>
<path d="M897 573L954 488M996.5 419L1036.5 362.6M1065 319L1082 293" stroke="#f58a8a" stroke-width="0.8" fill="none"/>
<path d="M882.6 605.9L953.2 516.7" stroke="#4545e0" stroke-width="0.9" fill="none"/>
<circle cx="1175.8" cy="194.3" r="1.9" fill="#111"/><circle cx="1161.7" cy="209.7" r="0.9" fill="#555"/><circle cx="1142" cy="219" r="0.9" fill="#444"/>
</svg>
</div>

<!-- groups -->
<div class="grp" style="left:392px;top:84px;width:205px;height:196px"></div>
<div class="grp" style="left:223px;top:176px;width:110px;height:88px"></div>
<div class="grp" style="left:637px;top:247px;width:125px;height:88px"></div>
<div class="grp" style="left:1px;top:305px;width:168px;height:151px"></div>
<div class="bgrp" style="left:260px;top:304px;width:217px;height:117px"></div>
<div class="bgrp" style="left:635px;top:349px;width:190px;height:90px"></div>

<!-- wires -->
<svg id="wires" width="1200" height="725" viewBox="0 0 1200 725" style="position:absolute;left:0;top:0">
<g fill="none" stroke="#2d2d2d" stroke-width="2" stroke-linecap="round">
<path d="M0 258.4C60 240 140 221.3 229 221.3M0 293.7L642 292.2M163.4 350.2C222.3 350.2 170.1 237.0 229.0 237.0M29.0 364.5C45.2 364.5 48.8 365.5 65.0 365.5M27.7 412.0C60.3 412.0 32.4 350.0 65.0 350.0M327 221.5L510 221.5M327.0 221.5C391.1 221.5 325.9 349.3 390.0 349.3M444.4 126.0C502.3 126.0 452.1 236.7 510.0 236.7M444.4 181.0C488.0 181.0 466.4 252.3 510.0 252.3M591.2 221.5C636.2 221.5 597.3 307.5 642.3 307.5M313.4 385.6C349.1 385.6 354.3 364.9 390.0 364.9M313.4 395.0C348.5 395.0 354.9 380.7 390.0 380.7M472.0 349.3C555.2 349.3 557.8 424.5 641.0 424.5"/><g fill="#2f2f2f" stroke="none"><rect x="226.8" y="219.1" width="2.5" height="4.4" rx="1"/><rect x="226.8" y="234.8" width="2.5" height="4.4" rx="1"/><rect x="62.8" y="347.8" width="2.5" height="4.4" rx="1"/><rect x="62.8" y="363.3" width="2.5" height="4.4" rx="1"/><rect x="507.8" y="219.3" width="2.5" height="4.4" rx="1"/><rect x="507.8" y="234.5" width="2.5" height="4.4" rx="1"/><rect x="507.8" y="250.1" width="2.5" height="4.4" rx="1"/><rect x="640.1" y="290.0" width="2.5" height="4.4" rx="1"/><rect x="640.1" y="305.3" width="2.5" height="4.4" rx="1"/><rect x="387.8" y="347.1" width="2.5" height="4.4" rx="1"/><rect x="387.8" y="362.7" width="2.5" height="4.4" rx="1"/><rect x="387.8" y="378.5" width="2.5" height="4.4" rx="1"/><rect x="163.1" y="348.0" width="2.5" height="4.4" rx="1"/><rect x="29.0" y="362.3" width="2.5" height="4.4" rx="1"/><rect x="27.4" y="409.8" width="2.5" height="4.4" rx="1"/><rect x="326.7" y="219.3" width="2.5" height="4.4" rx="1"/><rect x="444.1" y="123.8" width="2.5" height="4.4" rx="1"/><rect x="444.1" y="178.8" width="2.5" height="4.4" rx="1"/><rect x="590.9" y="219.3" width="2.5" height="4.4" rx="1"/><rect x="313.1" y="383.4" width="2.5" height="4.4" rx="1"/><rect x="313.1" y="392.8" width="2.5" height="4.4" rx="1"/><rect x="471.7" y="347.1" width="2.5" height="4.4" rx="1"/></g>
</g>
<g fill="none" stroke="#1486b0" stroke-width="1.8">
<path d="M288.5 419V472M430 407V472M729 437V472"/>
</g>
<g fill="#1486b0"><path d="M284.3 414.5H292.7V418.5Q292.7 421.5 289.4 423L288.5 425L287.6 423Q284.3 421.5 284.3 418.5Z"/><path d="M425.8 404.3H434.2V406.8Q434.2 409.8 430.9 411.3L430 413.3L429.1 411.3Q425.8 409.8 425.8 406.8Z"/><path d="M724.8 433.8H733.2V437.2Q733.2 440.2 729.9 441.7L729 443.7L728.1 441.7Q724.8 440.2 724.8 437.2Z"/></g>
</svg>

<div class="node" style="left:397.0px;top:104.0px;width:47.5px;height:46.0px"><div class="hd" style="height:15.0px;line-height:15.0px;letter-spacing:-0.3px">Code Block</div><div class="code" style="top:15.0px;right:0;height:10.6px;line-height:10.6px"><em>0.01</em>;</div><div class="cout" style="top:15.0px;width:16.0px;height:10.6px;line-height:9.6px">&gt;</div></div>
<div class="node" style="left:397.0px;top:159.2px;width:47.5px;height:46.6px"><div class="hd" style="height:15.0px;line-height:15.0px;letter-spacing:-0.3px">Code Block</div><div class="code" style="top:15.0px;right:0;height:10.6px;line-height:10.6px"><em>1</em>;</div><div class="cout" style="top:15.0px;width:16.0px;height:10.6px;line-height:9.6px">&gt;</div></div>
<div class="node" style="left:510.0px;top:197.0px;width:81.3px;height:78.0px"><div class="hd" style="height:15.0px;line-height:16.2px">Math.RemapRange</div><div class="pi" style="top:15.0px;width:40.5px;height:14.9px;line-height:17.5px">numbers</div><div class="pi" style="top:30.5px;width:40.5px;height:14.9px;line-height:17.5px">newMin</div><div class="pi" style="top:46.0px;width:40.5px;height:14.9px;line-height:17.5px">newMax</div><div class="po" style="top:15.0px;width:17.0px;height:14.9px;line-height:17.5px">list</div><div class="lace">l</div></div>
<div class="node" style="left:642.0px;top:268.0px;width:114.6px;height:62.0px"><div class="hd" style="height:15.0px;line-height:16.2px"><span style="letter-spacing:-0.13px">Sphere.ByCenterPointRadius</span></div><div class="pi" style="top:15.0px;width:50.0px;height:14.9px;line-height:17.5px">centerPoint</div><div class="pi" style="top:30.5px;width:50.0px;height:14.9px;line-height:17.5px">radius</div><div class="po" style="top:15.0px;width:33.0px;height:14.9px;line-height:17.5px">Sphere</div><div class="lace">l</div></div>
<div class="node" style="left:229.0px;top:197.0px;width:98.0px;height:62.5px"><div class="hd" style="height:15.0px;line-height:16.2px">Geometry.DistanceTo</div><div class="pi" style="top:15.0px;width:41.5px;height:14.9px;line-height:17.5px">geometry</div><div class="pi" style="top:30.5px;width:41.5px;height:14.9px;line-height:17.5px">other</div><div class="po" style="top:15.0px;width:32.5px;height:14.9px;line-height:17.5px">double</div><div class="lace">l</div></div>
<div class="node" style="left:65.0px;top:326.0px;width:98.4px;height:62.0px"><div class="hd" style="height:15.0px;line-height:16.2px">Curve.PointAtParameter</div><div class="pi" style="top:15.0px;width:31.0px;height:14.9px;line-height:17.5px">curve</div><div class="pi" style="top:30.5px;width:31.0px;height:14.9px;line-height:17.5px">param</div><div class="po" style="top:15.0px;width:26.5px;height:14.9px;line-height:17.5px">Point</div><div class="lace">l</div></div>
<div class="node" style="left:-10px;top:341px;width:39.5px;height:32px"><div class="hd" style="height:15px"></div><div style="position:absolute;left:0;top:15px;width:37.5px;height:15px;background:#e6e3dd"></div><div style="position:absolute;left:9px;top:21px;width:10px;height:3px;background:#c9c9c9;border:1px solid #aaa;box-sizing:border-box"></div><div style="position:absolute;left:17px;top:18px;width:5px;height:9px;background:#fafafa;border:1px solid #999;box-sizing:border-box"></div><div style="position:absolute;left:24px;top:15px;width:13.5px;height:15px;line-height:14px;font-size:7px;text-align:center;border-left:1px solid #cfcbc3;box-sizing:border-box">&gt;</div></div>
<div class="node" style="left:-10px;top:388.6px;width:37.7px;height:61.5px"><div class="hd" style="height:15px"></div><div class="po" style="top:15px;width:36px;height:14.6px;line-height:14.6px;padding-right:2px">yCurve</div><div class="lace">l</div></div>
<div class="node sel" style="left:388.0px;top:324.3px;width:84.0px;height:80.0px"><div class="hd" style="height:15.6px;line-height:16.8px">Math.RemapRange</div><div class="pi" style="top:15.6px;width:39.0px;height:15.2px;line-height:17.8px">numbers</div><div class="pi" style="top:31.4px;width:39.0px;height:15.2px;line-height:17.8px">newMin</div><div class="pi" style="top:47.2px;width:39.0px;height:15.2px;line-height:17.8px">newMax</div><div class="po" style="top:15.6px;width:16.0px;height:15.2px;line-height:17.8px">list</div><div class="lace">l</div></div>
<div class="node sel" style="left:264.3px;top:362.0px;width:49.2px;height:52.5px"><div class="hd" style="height:15.0px;line-height:15.0px;letter-spacing:-0.3px">Code Block</div><div class="code" style="top:15.0px;right:0;height:20.8px;line-height:10.4px"><em>0</em>;<br><em>1</em>;</div><div class="cout" style="top:15.0px;width:14.0px;height:10.4px;line-height:9.4px">&gt;</div><div class="cout" style="top:25.4px;width:14.0px;height:10.4px;line-height:9.4px">&gt;</div></div>
<div class="node sel cr" style="left:639.2px;top:368.5px;width:181.2px;height:65.4px"><div class="hd light" style="height:15.0px;line-height:16.2px">Color Range</div><div class="pi" style="top:15.0px;width:31.8px;height:14.9px;line-height:17.5px">colors</div><div class="pi" style="top:30.5px;width:31.8px;height:14.9px;line-height:17.5px">indices</div><div class="pi" style="top:46.0px;width:31.8px;height:14.9px;line-height:17.5px">value</div><div class="po" style="top:15.0px;width:24.5px;height:14.9px;line-height:17.5px">color</div><div style="position:absolute;left:31.8px;top:15px;width:121px;height:46.5px;background:linear-gradient(90deg,#ff6060 0%,#ffa040 25%,#ffff10 50%,#80ff80 75%,#00ffff 100%)"></div></div>

<div class="callnum" style="left:273.5px;top:476px">2</div>
<div class="callnum" style="left:417px;top:476px">1</div>
<div class="callnum" style="left:714.5px;top:476px">3</div>

<div id="lib"><svg width="12" height="14" viewBox="0 0 12 14" style="position:absolute;left:0;top:3px"><path d="M3.5 4.5H9.5M3.5 6.5H9.5" stroke="#bbb" stroke-width="1" fill="none"/><path d="M3.5 8H9.5L6.5 11Z" fill="#bbb"/></svg><span>Library</span></div>

<div id="viewtog">
 <svg width="65" height="13" viewBox="1130 71 65 13"><g fill="none" stroke="#777" stroke-width="0.9"><circle cx="1138.5" cy="78.5" r="3.2"/><path d="M1137.5 80.5L1142 73.5L1146.5 80.5Z"/><rect x="1149.5" y="76" width="5.5" height="5.5"/><path d="M1149.5 76L1151.5 74H1157V79.5L1155 81.5M1155 76L1157 74"/></g>
 <path d="M1162.5 71V84" stroke="#e2e2e2" stroke-width="1"/>
 <g fill="#7fbdf5" stroke="#2e8fe8" stroke-width="0.9"><rect x="1168.5" y="74.5" width="5" height="3"/><rect x="1171.5" y="80" width="5" height="2.6"/><rect x="1183.5" y="75.5" width="7" height="5"/></g>
 <path d="M1173.5 76C1179 76 1178 78 1183.5 78M1176.5 81.3C1180 81.3 1180 78.5 1183.5 78.5" fill="none" stroke="#2e8fe8" stroke-width="0.8"/>
 </svg>
</div>
<div id="zoomctl"><svg width="13" height="41" viewBox="1181 94 13 41"><g fill="none" stroke="#444" stroke-width="1.1"><path d="M1184 99V96.5H1186.5M1188.5 96.5H1191V99M1191 101V103.5H1188.5M1186.5 103.5H1184V101"/><path d="M1184.5 115H1190.5M1187.5 112V118"/><path d="M1184.5 129H1190.5"/></g></svg></div>
<div id="panctl"><svg width="13" height="14" viewBox="1181 142 13 14"><g fill="none" stroke="#444" stroke-width="1"><path d="M1183 149.3H1192M1187.5 145V153.8"/></g><g fill="#444"><path d="M1187.5 143.6L1189.2 146H1185.8Z"/><path d="M1187.5 155L1189.2 152.6H1185.8Z"/><path d="M1181.8 149.3L1184.2 147.6V151Z"/><path d="M1193.2 149.3L1190.8 147.6V151Z"/></g></svg></div>

<div id="statusbar"><div id="runmode">Automatic<svg width="7" height="4" viewBox="0 0 7 4" style="position:absolute;left:62px;top:10px"><path d="M0 0H6L3 3Z" fill="#ccc"/></svg></div><div id="runmsg">Run completed.</div>
<svg width="8" height="8" viewBox="0 0 8 8" style="position:absolute;left:1191px;top:22px"><path d="M7 0V7H0Z" fill="none"/><g fill="#888"><rect x="6" y="1" width="1" height="1"/><rect x="4" y="3" width="1" height="1"/><rect x="6" y="3" width="1" height="1"/><rect x="2" y="5" width="1" height="1"/><rect x="4" y="5" width="1" height="1"/><rect x="6" y="5" width="1" height="1"/></g></svg>
</div>

</body></html>
